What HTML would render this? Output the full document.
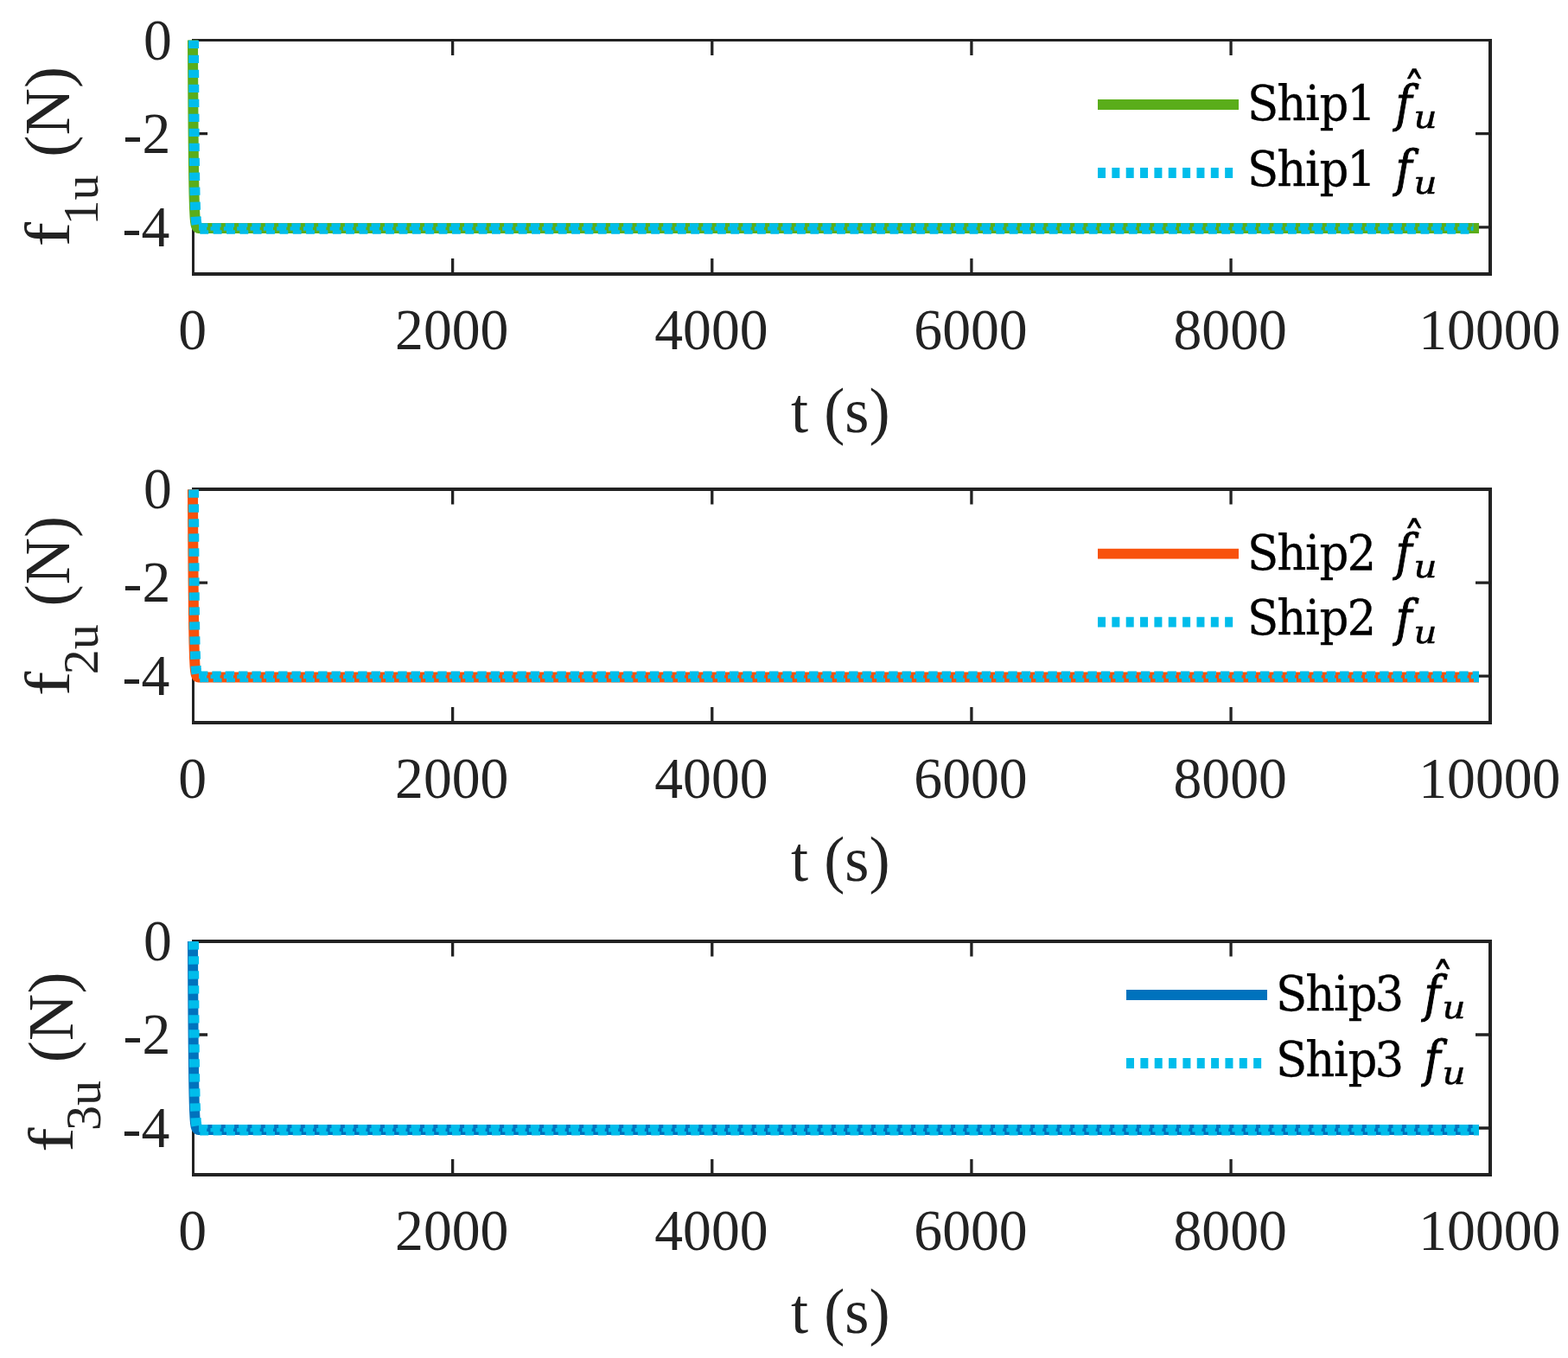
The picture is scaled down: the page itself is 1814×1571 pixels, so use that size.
<!DOCTYPE html>
<html lang="en"><head><meta charset="utf-8"><title>Disturbance estimates f_u for Ship1, Ship2, Ship3</title>
<style>
html,body{margin:0;padding:0;background:#fff;}
body{width:1814px;height:1571px;overflow:hidden;}
svg{display:block;}
text{font-family:"Liberation Serif","DejaVu Serif",serif;}
.tk{font-size:66.67px;fill:#222222;}
.lb{font-size:73.33px;fill:#222222;}
.sb{font-size:58px;fill:#222222;}
.lg{font-family:"DejaVu Serif Condensed","DejaVu Serif","Liberation Serif",serif;font-size:56px;fill:#000;stroke:#000;stroke-width:0.3px;}
.lgi{font-family:"DejaVu Serif Condensed","DejaVu Serif","Liberation Serif",serif;font-style:italic;font-size:57.4px;fill:#000;stroke:#000;stroke-width:0.9px;}
.lgj{font-family:"DejaVu Serif","Liberation Serif",serif;font-style:italic;font-size:36.2px;fill:#000;stroke:#000;stroke-width:0.5px;}
.lgh{font-family:"DejaVu Serif","Liberation Serif",serif;font-size:51.6px;fill:#000;stroke:#000;stroke-width:0.4px;}
.ax{stroke:#222222;stroke-width:3.3;fill:none;stroke-linecap:butt;}
.bx{fill:#222222;fill-rule:evenodd;stroke:none;shape-rendering:crispEdges;}
.ln{fill:none;stroke-width:12;stroke-linejoin:round;stroke-linecap:butt;}
</style></head><body>
<svg width="1814" height="1571" viewBox="0 0 1814 1571">
<rect x="0" y="0" width="1814" height="1571" fill="#ffffff"/>
<g>
<path class="bx" d="M222 45 H1726 V319 H222 Z M225 48 V315 H1722 V48 Z"/>
<path class="ax" d="M523.64 317.1 v-18 M523.64 46.4 v17.5 M823.78 317.1 v-18 M823.78 46.4 v17.5 M1123.92 317.1 v-18 M1123.92 46.4 v17.5 M1424.06 317.1 v-18 M1424.06 46.4 v17.5 M223.5 154.68 h16.6 M1724.2 154.68 h-17.2 M223.5 262.96 h16.6 M1724.2 262.96 h-17.2"/>
<path class="ln" stroke="#5AAD1A" d="M223 46.4 L223.08 63.8 L223.15 79.81 L223.3 108.08 L223.45 132.02 L223.6 152.28 L223.75 169.43 L223.9 183.95 L224.2 206.64 L224.5 222.9 L224.8 234.55 L225.1 242.9 L225.55 251.2 L226 256.24 L226.6 260.01 L227.2 261.95 L227.95 263.11 L229 263.72 L230.5 263.95 L232 263.99 L1710.99 264"/>
<path class="ln" stroke="#00BDEB" stroke-dasharray="9.3 7.7" transform="translate(1 0.3)" d="M223 46.4 L223.08 63.8 L223.15 79.81 L223.3 108.08 L223.45 132.02 L223.6 152.28 L223.75 169.43 L223.9 183.95 L224.2 206.64 L224.5 222.9 L224.8 234.55 L225.1 242.9 L225.55 251.2 L226 256.24 L226.6 260.01 L227.2 261.95 L227.95 263.11 L229 263.72 L230.5 263.95 L232 263.99"/>
<path fill="none" stroke="#00BDEB" stroke-width="4.6" stroke-dasharray="10.4 4.95" stroke-dashoffset="0" d="M230 260.5 H1704.49"/>
<path fill="none" stroke="#00BDEB" stroke-width="4.6" stroke-dasharray="11.15 4.2" stroke-dashoffset="1.9" d="M230 264.5 H1704.49"/>
<path fill="none" stroke="#00BDEB" stroke-width="4.6" stroke-dasharray="9.95 5.4" stroke-dashoffset="-1.3" d="M230 268.5 H1704.49"/>
<text class="tk" text-anchor="middle" transform="translate(222.6 403.8) scale(0.985 1.015)">0</text>
<text class="tk" text-anchor="middle" transform="translate(522.74 403.8) scale(0.985 1.015)">2000</text>
<text class="tk" text-anchor="middle" transform="translate(822.88 403.8) scale(0.985 1.015)">4000</text>
<text class="tk" text-anchor="middle" transform="translate(1123.02 403.8) scale(0.985 1.015)">6000</text>
<text class="tk" text-anchor="middle" transform="translate(1423.16 403.8) scale(0.985 1.015)">8000</text>
<text class="tk" text-anchor="middle" transform="translate(1723.3 403.8) scale(0.985 1.015)">10000</text>
<text class="tk" text-anchor="end" transform="translate(198.8 68.6) scale(0.985 1.015)">0</text>
<text class="tk" text-anchor="end" transform="translate(197.3 176.88) scale(0.985 1.015)">-2</text>
<text class="tk" text-anchor="end" transform="translate(196.3 285.16) scale(0.985 1.015)">-4</text>
<text class="lb" text-anchor="middle" transform="translate(972.25 499.6) scale(0.987 1)">t (s)</text>
<g transform="translate(80 283.75) rotate(-90)">
<text class="lb" transform="translate(-1.4 0) scale(1.16 1)">f</text>
<text class="sb" x="23.3" y="32.6">1u</text>
<text class="lb" transform="translate(102.0 0) scale(1.03 1)">(N)</text>
</g>
<path class="ln" style="stroke-width:11.8px" stroke="#5AAD1A" d="M1270 121 H1433"/>
<path class="ln" style="stroke-width:11.8px" stroke="#00BDEB" stroke-dasharray="9 7.35" d="M1270 200 H1433"/>
<text class="lg" transform="translate(1440 139.2) scale(1.05 1)" x="2.82 35.44 66.74 82.5 112.56" y="0">Ship1</text>
<text class="lgi" x="1614.6" y="139.6">f</text>
<text class="lgj" transform="translate(1635.5 148.4) scale(1.16 1)">u</text>
<text class="lgh" transform="translate(1623.3 129) scale(1 1.18)">ˆ</text>
<text class="lg" transform="translate(1440 214.8) scale(1.05 1)" x="2.82 35.44 66.74 82.5 112.56" y="0">Ship1</text>
<text class="lgi" x="1614.6" y="215.2">f</text>
<text class="lgj" transform="translate(1635.5 224) scale(1.16 1)">u</text>
</g>
<g>
<path class="bx" d="M222 564 H1726 V838 H222 Z M225 568 V834 H1722 V568 Z"/>
<path class="ax" d="M523.64 836.1 v-18 M523.64 566.1 v17.5 M823.78 836.1 v-18 M823.78 566.1 v17.5 M1123.92 836.1 v-18 M1123.92 566.1 v17.5 M1424.06 836.1 v-18 M1424.06 566.1 v17.5 M223.5 674.1 h16.6 M1724.2 674.1 h-17.2 M223.5 782.1 h16.6 M1724.2 782.1 h-17.2"/>
<path class="ln" stroke="#F8510B" d="M223 566.1 L223.08 583.49 L223.15 599.49 L223.3 627.75 L223.45 651.68 L223.6 671.93 L223.75 689.07 L223.9 703.59 L224.2 726.27 L224.5 742.52 L224.8 754.16 L225.1 762.51 L225.55 770.81 L226 775.84 L226.6 779.62 L227.2 781.55 L227.95 782.71 L229 783.32 L230.5 783.55 L232 783.59 L1710.99 783.6"/>
<path class="ln" stroke="#00BDEB" stroke-dasharray="9.3 7.7" transform="translate(1 0.3)" d="M223 566.1 L223.08 583.49 L223.15 599.49 L223.3 627.75 L223.45 651.68 L223.6 671.93 L223.75 689.07 L223.9 703.59 L224.2 726.27 L224.5 742.52 L224.8 754.16 L225.1 762.51 L225.55 770.81 L226 775.84 L226.6 779.62 L227.2 781.55 L227.95 782.71 L229 783.32 L230.5 783.55 L232 783.59"/>
<path fill="none" stroke="#00BDEB" stroke-width="4.6" stroke-dasharray="10.4 4.95" stroke-dashoffset="0" d="M230 778.9 H1710.99"/>
<path fill="none" stroke="#00BDEB" stroke-width="4.6" stroke-dasharray="11.15 4.2" stroke-dashoffset="1.9" d="M230 782.9 H1710.99"/>
<path fill="none" stroke="#00BDEB" stroke-width="4.6" stroke-dasharray="9.95 5.4" stroke-dashoffset="-1.3" d="M230 786.9 H1710.99"/>
<text class="tk" text-anchor="middle" transform="translate(222.6 922.8) scale(0.985 1.015)">0</text>
<text class="tk" text-anchor="middle" transform="translate(522.74 922.8) scale(0.985 1.015)">2000</text>
<text class="tk" text-anchor="middle" transform="translate(822.88 922.8) scale(0.985 1.015)">4000</text>
<text class="tk" text-anchor="middle" transform="translate(1123.02 922.8) scale(0.985 1.015)">6000</text>
<text class="tk" text-anchor="middle" transform="translate(1423.16 922.8) scale(0.985 1.015)">8000</text>
<text class="tk" text-anchor="middle" transform="translate(1723.3 922.8) scale(0.985 1.015)">10000</text>
<text class="tk" text-anchor="end" transform="translate(198.8 588.3) scale(0.985 1.015)">0</text>
<text class="tk" text-anchor="end" transform="translate(197.3 696.3) scale(0.985 1.015)">-2</text>
<text class="tk" text-anchor="end" transform="translate(196.3 804.3) scale(0.985 1.015)">-4</text>
<text class="lb" text-anchor="middle" transform="translate(972.25 1018.6) scale(0.987 1)">t (s)</text>
<g transform="translate(80 803.6) rotate(-90)">
<text class="lb" transform="translate(-1.4 0) scale(1.16 1)">f</text>
<text class="sb" x="23.3" y="32.6">2u</text>
<text class="lb" transform="translate(102.0 0) scale(1.03 1)">(N)</text>
</g>
<path class="ln" style="stroke-width:11.8px" stroke="#F8510B" d="M1270 640.6 H1433"/>
<path class="ln" style="stroke-width:11.8px" stroke="#00BDEB" stroke-dasharray="9 7.35" d="M1270 719.6 H1433"/>
<text class="lg" transform="translate(1440 658.8) scale(1.05 1)" x="2.82 35.44 66.74 82.5 112.84" y="0">Ship2</text>
<text class="lgi" x="1614.6" y="659.2">f</text>
<text class="lgj" transform="translate(1635.5 668) scale(1.16 1)">u</text>
<text class="lgh" transform="translate(1623.3 648.6) scale(1 1.18)">ˆ</text>
<text class="lg" transform="translate(1440 734.4) scale(1.05 1)" x="2.82 35.44 66.74 82.5 112.84" y="0">Ship2</text>
<text class="lgi" x="1614.6" y="734.8">f</text>
<text class="lgj" transform="translate(1635.5 743.6) scale(1.16 1)">u</text>
</g>
<g>
<path class="bx" d="M222 1087 H1726 V1361 H222 Z M225 1091 V1357 H1722 V1091 Z"/>
<path class="ax" d="M523.64 1359 v-18 M523.64 1089 v17.5 M823.78 1359 v-18 M823.78 1089 v17.5 M1123.92 1359 v-18 M1123.92 1089 v17.5 M1424.06 1359 v-18 M1424.06 1089 v17.5 M223.5 1197 h16.6 M1724.2 1197 h-17.2 M223.5 1305 h16.6 M1724.2 1305 h-17.2"/>
<path class="ln" stroke="#0072BD" d="M223 1089 L223.08 1106.43 L223.15 1122.47 L223.3 1150.8 L223.45 1174.78 L223.6 1195.08 L223.75 1212.26 L223.9 1226.8 L224.2 1249.54 L224.5 1265.83 L224.8 1277.5 L225.1 1285.86 L225.55 1294.18 L226 1299.22 L226.6 1303.01 L227.2 1304.95 L227.95 1306.11 L229 1306.72 L230.5 1306.95 L232 1306.99 L1710.99 1307"/>
<path class="ln" stroke="#00BDEB" stroke-dasharray="9.3 7.7" transform="translate(1 0.3)" d="M223 1089 L223.08 1106.43 L223.15 1122.47 L223.3 1150.8 L223.45 1174.78 L223.6 1195.08 L223.75 1212.26 L223.9 1226.8 L224.2 1249.54 L224.5 1265.83 L224.8 1277.5 L225.1 1285.86 L225.55 1294.18 L226 1299.22 L226.6 1303.01 L227.2 1304.95 L227.95 1306.11 L229 1306.72 L230.5 1306.95 L232 1306.99"/>
<path fill="none" stroke="#00BDEB" stroke-width="4.6" stroke-dasharray="10.4 4.95" stroke-dashoffset="0" d="M230 1303.2 H1710.99"/>
<path fill="none" stroke="#00BDEB" stroke-width="4.6" stroke-dasharray="11.15 4.2" stroke-dashoffset="1.9" d="M230 1307.2 H1710.99"/>
<path fill="none" stroke="#00BDEB" stroke-width="4.6" stroke-dasharray="9.95 5.4" stroke-dashoffset="-1.3" d="M230 1311.2 H1710.99"/>
<text class="tk" text-anchor="middle" transform="translate(222.6 1445.7) scale(0.985 1.015)">0</text>
<text class="tk" text-anchor="middle" transform="translate(522.74 1445.7) scale(0.985 1.015)">2000</text>
<text class="tk" text-anchor="middle" transform="translate(822.88 1445.7) scale(0.985 1.015)">4000</text>
<text class="tk" text-anchor="middle" transform="translate(1123.02 1445.7) scale(0.985 1.015)">6000</text>
<text class="tk" text-anchor="middle" transform="translate(1423.16 1445.7) scale(0.985 1.015)">8000</text>
<text class="tk" text-anchor="middle" transform="translate(1723.3 1445.7) scale(0.985 1.015)">10000</text>
<text class="tk" text-anchor="end" transform="translate(198.8 1111.2) scale(0.985 1.015)">0</text>
<text class="tk" text-anchor="end" transform="translate(197.3 1219.2) scale(0.985 1.015)">-2</text>
<text class="tk" text-anchor="end" transform="translate(196.3 1327.2) scale(0.985 1.015)">-4</text>
<text class="lb" text-anchor="middle" transform="translate(972.25 1541.5) scale(0.987 1)">t (s)</text>
<g transform="translate(83.8 1331.3) rotate(-90)">
<text class="lb" transform="translate(-1.4 0) scale(1.16 1)">f</text>
<text class="sb" x="23.3" y="32.6">3u</text>
<text class="lb" transform="translate(102.0 0) scale(1.03 1)">(N)</text>
</g>
<path class="ln" style="stroke-width:11.8px" stroke="#0072BD" d="M1303 1151 H1466"/>
<path class="ln" style="stroke-width:11.8px" stroke="#00BDEB" stroke-dasharray="9 7.35" d="M1303 1230 H1466"/>
<text class="lg" transform="translate(1473 1169.2) scale(1.05 1)" x="2.82 35.44 66.74 82.5 112.02" y="0">Ship3</text>
<text class="lgi" x="1647.6" y="1169.6">f</text>
<text class="lgj" transform="translate(1668.5 1178.4) scale(1.16 1)">u</text>
<text class="lgh" transform="translate(1656.3 1159) scale(1 1.18)">ˆ</text>
<text class="lg" transform="translate(1473 1244.8) scale(1.05 1)" x="2.82 35.44 66.74 82.5 112.02" y="0">Ship3</text>
<text class="lgi" x="1647.6" y="1245.2">f</text>
<text class="lgj" transform="translate(1668.5 1254) scale(1.16 1)">u</text>
</g>
</svg></body></html>
